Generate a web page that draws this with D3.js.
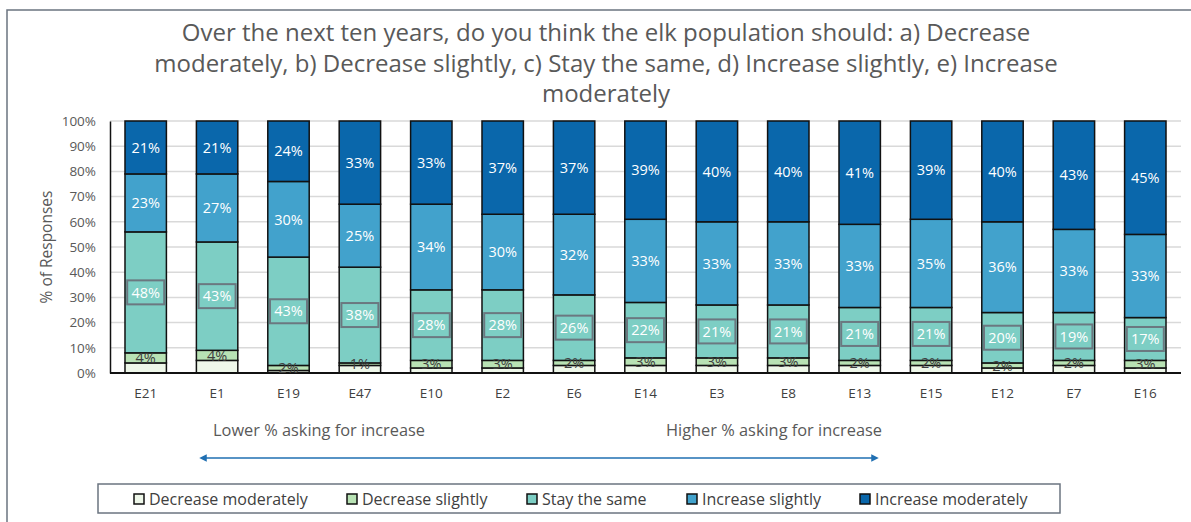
<!DOCTYPE html>
<html>
<head>
<meta charset="utf-8">
<script src="https://cdn.jsdelivr.net/npm/d3@7"></script>
<style>
  body { margin: 0; background: #fff; }
  svg { display: block; font-family: "Open Sans", sans-serif; }
</style>
</head>
<body>
<svg width="1191" height="522"></svg>
<script>
const regions = ["E21", "E1", "E19", "E47", "E10", "E2", "E6", "E14", "E3", "E8", "E13", "E15", "E12", "E7", "E16"];
const seriesNames = ["Decrease moderately", "Decrease slightly", "Stay the same", "Increase slightly", "Increase moderately"];
const decreaseModerately = [4, 5, 1, 3, 2, 2, 3, 3, 3, 3, 3, 3, 2, 3, 2];
const decreaseSlightly = [4, 4, 2, 1, 3, 3, 2, 3, 3, 3, 2, 2, 2, 2, 3];
const stayTheSame = [48, 43, 43, 38, 28, 28, 26, 22, 21, 21, 21, 21, 20, 19, 17];
const increaseSlightly = [23, 27, 30, 25, 34, 30, 32, 33, 33, 33, 33, 35, 36, 33, 33];
const increaseModerately = [21, 21, 24, 33, 33, 37, 37, 39, 40, 40, 41, 39, 40, 43, 45];
const yTicks = [0, 10, 20, 30, 40, 50, 60, 70, 80, 90, 100];
const titleLines = [
  "Over the next ten years, do you think the elk population should: a) Decrease",
  "moderately, b) Decrease slightly, c) Stay the same, d) Increase slightly, e) Increase",
  "moderately"
];

const colors = ["#eef7e9", "#b8e2b4", "#7dcec4", "#42a2cc", "#0a67ab"];
const allSeries = [decreaseModerately, decreaseSlightly, stayTheSame, increaseSlightly, increaseModerately];

const rows = regions.map((r, i) => {
  const row = { region: r };
  seriesNames.forEach((s, k) => (row[s] = allSeries[k][i]));
  return row;
});

const svg = d3.select("svg");

// outer frame
svg.append("rect")
  .attr("x", 7).attr("y", 10).attr("width", 1190).attr("height", 520)
  .attr("fill", "none").attr("stroke", "#6b7480").attr("stroke-width", 1.5);

// title
svg.append("g").selectAll("text")
  .data(titleLines)
  .join("text")
  .attr("x", 606)
  .attr("y", (d, i) => 41 + i * 30.5)
  .attr("text-anchor", "middle")
  .attr("font-size", 24)
  .attr("fill", "#595959")
  .text(d => d);

const x = d3.scaleBand().domain(regions).range([110, 1181]).paddingInner(0.42).paddingOuter(0.21);
const y = d3.scaleLinear().domain([0, 100]).range([373, 121]);

// gridlines
svg.append("g").selectAll("line")
  .data(yTicks.slice(1))
  .join("line")
  .attr("x1", 110).attr("x2", 1181)
  .attr("y1", d => y(d)).attr("y2", d => y(d))
  .attr("stroke", "#d9d9d9").attr("stroke-width", 1.5);

const stacked = d3.stack().keys(seriesNames)(rows);

const layers = svg.append("g").selectAll("g")
  .data(stacked)
  .join("g")
  .attr("fill", (d, i) => colors[i]);

layers.selectAll("rect")
  .data(d => d)
  .join("rect")
  .attr("x", d => x(d.data.region))
  .attr("width", x.bandwidth())
  .attr("y", d => y(d[1]))
  .attr("height", d => y(d[0]) - y(d[1]))
  .attr("stroke", "#111")
  .attr("stroke-width", 1.5);

// axes
const yAxis = svg.append("g")
  .attr("transform", "translate(110,0)")
  .call(d3.axisLeft(y).tickValues(yTicks).tickFormat(d => d + "%").tickSize(0).tickPadding(14));
yAxis.select(".domain").attr("stroke", "#111").attr("stroke-width", 1.5);
yAxis.selectAll("text").attr("font-size", 13.5).attr("fill", "#595959").attr("font-family", "Open Sans");

const xAxis = svg.append("g")
  .attr("transform", "translate(0,373)")
  .call(d3.axisBottom(x).tickSize(0).tickPadding(15));
xAxis.select(".domain").attr("stroke", "#111").attr("stroke-width", 2).attr("d", "M110,0H1181");
xAxis.selectAll("text").attr("font-size", 13.5).attr("fill", "#404040").attr("font-family", "Open Sans");

svg.append("text")
  .attr("transform", "translate(52,247) rotate(-90)")
  .attr("text-anchor", "middle")
  .attr("font-size", 15.5)
  .attr("fill", "#595959")
  .text("% of Responses");

// data labels
const labelG = svg.append("g");
stacked.forEach((layer, k) => {
  if (k === 0) return;
  layer.forEach(d => {
    const cx = x(d.data.region) + x.bandwidth() / 2;
    const cy = (y(d[0]) + y(d[1])) / 2;
    const txt = d.data[layer.key] + "%";
    if (k === 2) {
      labelG.append("rect")
        .attr("x", cx - 18.5).attr("y", cy - 12)
        .attr("width", 37).attr("height", 24)
        .attr("fill", colors[2])
        .attr("stroke", "#6b7880").attr("stroke-width", 2);
    }
    labelG.append("text")
      .attr("x", cx)
      .attr("y", cy)
      .attr("dy", "0.36em")
      .attr("text-anchor", "middle")
      .attr("font-size", 14.5)
      .attr("fill", k === 1 ? "#404040" : "#fff")
      .text(txt);
  });
});

// arrow annotation
const defs = svg.append("defs");
["start", "end"].forEach(id => {
  defs.append("marker")
    .attr("id", "arrow-" + id)
    .attr("viewBox", "0 0 10 10")
    .attr("refX", 5).attr("refY", 5)
    .attr("markerWidth", 5).attr("markerHeight", 5)
    .attr("orient", id === "end" ? "auto" : "auto-start-reverse")
    .append("path")
    .attr("d", "M0,0L10,5L0,10Z")
    .attr("fill", "#1f6fb2");
});
svg.append("line")
  .attr("x1", 203).attr("x2", 875)
  .attr("y1", 458).attr("y2", 458)
  .attr("stroke", "#1f6fb2").attr("stroke-width", 1.5)
  .attr("marker-start", "url(#arrow-start)")
  .attr("marker-end", "url(#arrow-end)");

svg.append("text")
  .attr("x", 319).attr("y", 436)
  .attr("text-anchor", "middle")
  .attr("font-size", 15.5).attr("fill", "#595959")
  .attr("textLength", 212).attr("lengthAdjust", "spacingAndGlyphs")
  .text("Lower % asking for increase");
svg.append("text")
  .attr("x", 774).attr("y", 436)
  .attr("text-anchor", "middle")
  .attr("font-size", 15.5).attr("fill", "#595959")
  .attr("textLength", 216).attr("lengthAdjust", "spacingAndGlyphs")
  .text("Higher % asking for increase");

// legend
svg.append("rect")
  .attr("x", 98).attr("y", 484).attr("width", 962).attr("height", 29)
  .attr("fill", "#fff").attr("stroke", "#6b7480").attr("stroke-width", 1.5);

const legendX = [134, 347, 527, 687, 860];
const legend = svg.append("g").selectAll("g")
  .data(seriesNames)
  .join("g")
  .attr("transform", (d, i) => `translate(${legendX[i]},499)`);
legend.append("rect")
  .attr("x", 0).attr("y", -5).attr("width", 10).attr("height", 10)
  .attr("fill", (d, i) => colors[i])
  .attr("stroke", "#111").attr("stroke-width", 1.5);
legend.append("text")
  .attr("x", 15).attr("dy", "0.36em")
  .attr("font-size", 16).attr("fill", "#404040")
  .text(d => d);
</script>
</body>
</html>
